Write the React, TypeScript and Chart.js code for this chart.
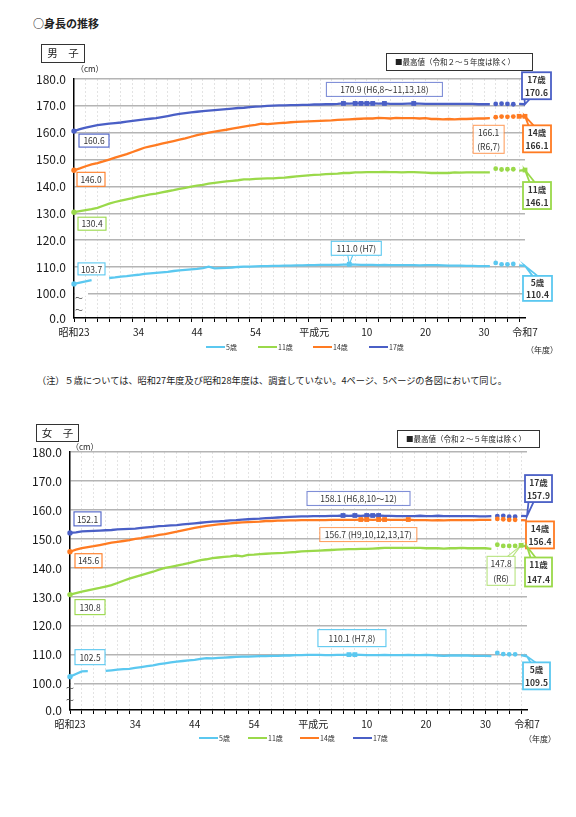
"use client"

import { useRef, useEffect } from "react"
import { Chart, registerables } from "chart.js"

Chart.register(...registerables)

const FONT = '"Noto Sans CJK JP", "Noto Sans", sans-serif'

const years = [
  1948, 1949, 1950, 1951, 1952, 1953, 1954, 1955, 1956, 1957,
  1958, 1959, 1960, 1961, 1962, 1963, 1964, 1965, 1966, 1967,
  1968, 1969, 1970, 1971, 1972, 1973, 1974, 1975, 1976, 1977,
  1978, 1979, 1980, 1981, 1982, 1983, 1984, 1985, 1986, 1987,
  1988, 1989, 1990, 1991, 1992, 1993, 1994, 1995, 1996, 1997,
  1998, 1999, 2000, 2001, 2002, 2003, 2004, 2005, 2006, 2007,
  2008, 2009, 2010, 2011, 2012, 2013, 2014, 2015, 2016, 2017,
  2018, 2019, 2020, 2021, 2022, 2023, 2024, 2025,
]

const xTickYears = [1948, 1959, 1969, 1979, 1989, 1998, 2008, 2018, 2025]
const xTickText = ["昭和23", "34", "44", "54", "平成元", "10", "20", "30", "令和7"]

// 91 stands in for the broken "0.0" at the bottom of the axis
const yTicks = [91, 100, 110, 120, 130, 140, 150, 160, 170, 180]

const ages = ["5歳", "11歳", "14歳", "17歳"]
const ageColors = ["#5BC8F0", "#9AD94A", "#FF7B22", "#4A5FC6"]

// R2-R5: drawn as loose dots, excluded from the maximum
const covidYears = [2020, 2021, 2022, 2023]

// ---- 男子 ----
const boys5 = [
  103.7, 104.2, 104.6, 105.1, null, null, 105.9, 106.1, 106.4, 106.6,
  106.9, 107.1, 107.4, 107.6, 107.8, 108.0, 108.2, 108.5, 108.7, 108.9,
  109.1, 109.3, 109.6, 110.1, 109.5, 109.6, 109.7, 109.8, 110.0, 110.1,
  110.1, 110.2, 110.3, 110.3, 110.4, 110.4, 110.5, 110.5, 110.6, 110.6,
  110.7, 110.7, 110.8, 110.8, 110.8, 110.8, 110.9, 111.0, 110.9, 110.8,
  110.8, 110.8, 110.7, 110.8, 110.7, 110.7, 110.7, 110.7, 110.7, 110.6,
  110.7, 110.7, 110.7, 110.6, 110.5, 110.5, 110.5, 110.4, 110.4, 110.3,
  110.3, 110.3, 111.5, 111.0, 111.0, 111.1, 110.6, 110.4,
]
const boys11 = [
  130.4, 130.8, 131.2, 131.5, 132.0, 132.8, 133.6, 134.2, 134.7, 135.2,
  135.6, 136.2, 136.6, 137.0, 137.3, 137.8, 138.2, 138.6, 139.1, 139.5,
  139.9, 140.3, 140.6, 141.0, 141.3, 141.6, 141.9, 142.1, 142.3, 142.6,
  142.6, 142.8, 142.9, 143.0, 143.0, 143.2, 143.3, 143.5, 143.7, 143.9,
  144.1, 144.3, 144.4, 144.6, 144.7, 144.8, 145.0, 145.0, 145.2, 145.2,
  145.3, 145.3, 145.3, 145.4, 145.3, 145.3, 145.2, 145.3, 145.3, 145.2,
  145.1, 145.0, 145.0, 145.0, 145.0, 145.2, 145.1, 145.2, 145.2, 145.2,
  145.2, 145.2, 146.6, 146.3, 146.4, 146.4, 145.9, 146.1,
]
const boys14 = [
  146.0, 146.7, 147.5, 148.2, 148.7, 149.3, 150.0, 150.7, 151.4, 152.0,
  152.8, 153.6, 154.4, 154.9, 155.4, 155.9, 156.4, 156.9, 157.4, 157.9,
  158.5, 159.1, 159.6, 160.0, 160.4, 160.8, 161.1, 161.5, 161.9, 162.3,
  162.6, 162.9, 163.4, 163.2, 163.4, 163.6, 163.7, 163.9, 164.0, 164.1,
  164.2, 164.3, 164.4, 164.5, 164.6, 164.8, 164.9, 165.0, 165.1, 165.2,
  165.3, 165.3, 165.5, 165.4, 165.3, 165.5, 165.4, 165.4, 165.4, 165.3,
  165.4, 165.1, 165.1, 165.0, 165.1, 165.0, 165.1, 165.1, 165.2, 165.3,
  165.3, 165.4, 165.8, 166.0, 165.9, 166.0, 166.1, 166.1,
]
const boys17 = [
  160.6, 161.3, 161.9, 162.4, 162.8, 163.1, 163.4, 163.6, 163.8, 164.1,
  164.4, 164.7, 165.0, 165.2, 165.4, 165.8, 166.2, 166.6, 167.0, 167.3,
  167.6, 167.8, 168.0, 168.2, 168.4, 168.6, 168.8, 169.0, 169.2, 169.3,
  169.5, 169.7, 169.8, 170.0, 170.1, 170.2, 170.2, 170.3, 170.3, 170.4,
  170.4, 170.5, 170.5, 170.6, 170.6, 170.7, 170.9, 170.8, 170.9, 170.9,
  170.9, 170.9, 170.8, 170.9, 170.7, 170.7, 170.7, 170.8, 170.9, 170.8,
  170.7, 170.7, 170.7, 170.7, 170.7, 170.7, 170.7, 170.7, 170.7, 170.6,
  170.6, 170.6, 170.7, 170.8, 170.7, 170.6, 170.7, 170.6,
]
const boys5Max = [1995]
const boys11Max = [2025]
const boys14Max = [2024, 2025]
const boys17Max = [1994, 1996, 1997, 1998, 1999, 2001, 2006]

// ---- 女子 ----
const girls5 = [
  102.5, 103.4, 104.3, 104.4, null, null, 104.5, 104.7, 104.9, 105.1,
  105.2, 105.5, 105.8, 106.1, 106.4, 106.8, 107.1, 107.4, 107.7, 107.9,
  108.1, 108.3, 108.6, 108.9, 108.8, 109.0, 109.1, 109.2, 109.3, 109.4,
  109.4, 109.5, 109.6, 109.6, 109.7, 109.7, 109.8, 109.8, 109.9, 109.9,
  110.0, 110.0, 110.0, 109.9, 109.9, 110.0, 110.0, 110.1, 110.1, 110.0,
  109.9, 109.9, 109.9, 110.0, 109.9, 109.9, 109.9, 110.0, 109.9, 109.9,
  110.0, 109.9, 109.8, 109.7, 109.8, 109.8, 109.8, 109.8, 109.7, 109.7,
  109.7, 109.6, 110.7, 110.3, 110.2, 110.2, 109.9, 109.5,
]
const girls11 = [
  130.8, 131.3, 131.8, 132.3, 132.7, 133.1, 133.6, 134.1, 134.8, 135.6,
  136.3, 136.9, 137.5, 138.1, 138.7, 139.4, 140.0, 140.4, 140.8, 141.2,
  141.7, 142.2, 142.7, 143.0, 143.4, 143.6, 143.8, 144.0, 144.3, 144.0,
  144.5, 144.6, 144.8, 144.9, 145.0, 145.1, 145.2, 145.4, 145.5, 145.7,
  145.8, 145.9, 146.0, 146.1, 146.2, 146.3, 146.4, 146.5, 146.5, 146.6,
  146.6, 146.7, 146.8, 146.9, 146.9, 146.9, 146.9, 146.9, 146.9, 146.9,
  146.8, 146.8, 146.8, 146.7, 146.8, 146.8, 146.9, 146.8, 146.8, 146.8,
  146.8, 146.6, 148.0, 147.6, 147.6, 147.6, 147.8, 147.4,
]
const girls14 = [
  145.6, 146.3, 146.8, 147.2, 147.5, 147.9, 148.3, 148.7, 149.0, 149.3,
  149.6, 150.0, 150.3, 150.7, 151.0, 151.4, 151.7, 152.1, 152.5, 153.0,
  153.4, 153.8, 154.2, 154.5, 154.8, 155.0, 155.2, 155.4, 155.6, 155.7,
  155.8, 155.9, 156.0, 156.2, 156.2, 156.3, 156.3, 156.4, 156.4, 156.5,
  156.5, 156.5, 156.5, 156.5, 156.6, 156.6, 156.6, 156.6, 156.6, 156.7,
  156.7, 156.6, 156.7, 156.7, 156.6, 156.6, 156.6, 156.7, 156.5, 156.5,
  156.5, 156.4, 156.5, 156.4, 156.5, 156.5, 156.5, 156.5, 156.5, 156.6,
  156.6, 156.6, 156.9, 156.8, 156.6, 156.6, 156.5, 156.4,
]
const girls17 = [
  152.1, 152.3, 152.6, 152.7, 152.8, 152.9, 153.0, 153.1, 153.3, 153.4,
  153.5, 153.6, 153.8, 154.0, 154.2, 154.4, 154.5, 154.7, 154.8, 155.0,
  155.2, 155.4, 155.6, 155.8, 156.0, 156.1, 156.2, 156.4, 156.5, 156.7,
  156.8, 156.9, 157.0, 157.2, 157.3, 157.4, 157.5, 157.6, 157.7, 157.8,
  157.8, 157.9, 157.9, 157.9, 158.0, 158.0, 158.1, 158.0, 158.1, 158.0,
  158.1, 158.1, 158.1, 158.0, 158.0, 157.9, 157.9, 157.9, 157.9, 158.0,
  157.9, 157.9, 158.0, 157.9, 157.9, 157.9, 157.9, 157.9, 157.9, 157.8,
  157.8, 157.9, 157.9, 158.0, 157.7, 157.7, 158.0, 157.9,
]
const girls5Max = [1995, 1996]
const girls11Max = [2024]
const girls14Max = [1997, 1998, 2000, 2001, 2005]
const girls17Max = [1994, 1996, 1998, 1999, 2000]

interface Callout {
  ds: number
  year: number
  lines: string[]
  dx: number
  dy: number
  w: number
  h: number
  tail?: [number, number]
  strong?: boolean
  light?: boolean
}

const boysCallouts: Callout[] = [
  { ds: 3, year: 1948, lines: ["160.6"], dx: 5, dy: 3, w: 30, h: 13 },
  { ds: 2, year: 1948, lines: ["146.0"], dx: 3, dy: 2, w: 28, h: 14 },
  { ds: 1, year: 1948, lines: ["130.4"], dx: 4, dy: 5, w: 28, h: 13 },
  { ds: 0, year: 1948, lines: ["103.7"], dx: 4, dy: -21, w: 27, h: 12 },
  { ds: 3, year: 1994, lines: ["170.9 (H6,8～11,13,18)"], dx: -17, dy: -21, w: 116, h: 14, light: true },
  { ds: 2, year: 2024, lines: ["166.1", "(R6,7)"], dx: -46, dy: 9, w: 31, h: 28, light: true },
  { ds: 0, year: 1995, lines: ["111.0 (H7)"], dx: -18, dy: -23, w: 50, h: 14, tail: [19, 14] },
  { ds: 3, year: 2025, lines: ["17歳", "170.6"], dx: -3, dy: -32, w: 29, h: 27, tail: [5, 27], strong: true },
  { ds: 2, year: 2025, lines: ["14歳", "166.1"], dx: -2, dy: 9, w: 28, h: 27, tail: [8, 0], strong: true },
  { ds: 1, year: 2025, lines: ["11歳", "146.1"], dx: -2, dy: 12, w: 28, h: 27, tail: [9, 0], strong: true },
  { ds: 0, year: 2025, lines: ["5歳", "110.4"], dx: -2, dy: 10, w: 29, h: 25, tail: [12, 0], strong: true },
]

const girlsCallouts: Callout[] = [
  { ds: 3, year: 1948, lines: ["152.1"], dx: 4, dy: -21, w: 27, h: 14 },
  { ds: 2, year: 1948, lines: ["145.6"], dx: 5, dy: 2, w: 27, h: 14 },
  { ds: 1, year: 1948, lines: ["130.8"], dx: 5, dy: 5, w: 30, h: 15 },
  { ds: 0, year: 1948, lines: ["102.5"], dx: 5, dy: -27, w: 30, h: 15 },
  { ds: 3, year: 1994, lines: ["158.1 (H6,8,10～12)"], dx: -36, dy: -24, w: 103, h: 14, light: true },
  { ds: 2, year: 1997, lines: ["156.7 (H9,10,12,13,17)"], dx: -41, dy: 8, w: 97, h: 14, light: true },
  { ds: 1, year: 2024, lines: ["147.8", "(R6)"], dx: -34, dy: 11, w: 28, h: 29, tail: [23, 0], light: true },
  { ds: 0, year: 1995, lines: ["110.1 (H7,8)"], dx: -31, dy: -25, w: 68, h: 17 },
  { ds: 3, year: 2025, lines: ["17歳", "157.9"], dx: -2, dy: -41, w: 27, h: 27, tail: [6, 27], strong: true },
  { ds: 2, year: 2025, lines: ["14歳", "156.4"], dx: -1, dy: 1, w: 28, h: 27, strong: true },
  { ds: 1, year: 2025, lines: ["11歳", "147.4"], dx: -2, dy: 11, w: 27, h: 29, tail: [8, 0], strong: true },
  { ds: 0, year: 2025, lines: ["5歳", "109.5"], dx: -4, dy: 6, w: 27, h: 27, tail: [10, 0], strong: true },
]

const X_AXIS_H = 30

function makeAnnotations(callouts: Callout[], gap: number, breakDx: number) {
  return {
    id: "annotations",
    beforeDatasetsDraw(chart: any) {
      const { ctx, chartArea, scales } = chart
      const y100 = scales.y.getPixelForValue(100)
      ctx.save()
      ctx.fillStyle = "#ffffff"
      ctx.fillRect(chartArea.left + 1, y100 - 2, gap, 4)
      ctx.restore()
    },
    afterDraw(chart: any) {
      const { ctx, chartArea, scales } = chart
      const y100 = scales.y.getPixelForValue(100)
      ctx.save()
      ctx.font = `8px ${FONT}`
      ctx.fillStyle = "#444"
      ctx.textAlign = "center"
      ctx.textBaseline = "middle"
      ctx.fillText("～", chartArea.left + breakDx, y100 + 4)
      ctx.fillText("～", chartArea.left + breakDx, y100 + 16)

      for (const c of callouts) {
        const el = chart.getDatasetMeta(c.ds).data[years.indexOf(c.year)]
        if (!el) continue
        const px = el.x
        const py = el.y
        const bx = px + c.dx
        const by = py + c.dy
        ctx.strokeStyle = ageColors[c.ds]
        ctx.lineWidth = c.strong ? 1.8 : 1.1
        ctx.globalAlpha = c.light ? 0.7 : 1
        if (c.tail) {
          const ax = bx + c.tail[0]
          const ay = by + c.tail[1]
          ctx.beginPath()
          ctx.moveTo(ax - 2.5, ay)
          ctx.lineTo(px, py)
          ctx.lineTo(ax + 2.5, ay)
          ctx.stroke()
        }
        ctx.fillStyle = "#ffffff"
        ctx.fillRect(bx, by, c.w, c.h)
        ctx.strokeRect(bx, by, c.w, c.h)
        ctx.globalAlpha = 1
        ctx.fillStyle = "#333"
        ctx.font = `${c.strong ? "bold " : ""}8.5px ${FONT}`
        const lh = c.h / c.lines.length
        c.lines.forEach((t, k) => {
          ctx.fillText(t, bx + c.w / 2, by + lh * (k + 0.5) + 0.5)
        })
      }
      ctx.restore()
    },
  }
}

interface ChartProps {
  series: (number | null)[][]
  maxYears: number[][]
  callouts: Callout[]
  top: number
  height: number
  plotLeft: number
  plotRight: number
  plotTop: number
  plotBottom: number
  gap: number
  breakDx: number
}

function HeightChart(p: ChartProps) {
  const canvasRef = useRef<HTMLCanvasElement>(null)
  const chartRef = useRef<Chart | null>(null)

  useEffect(() => {
    if (!canvasRef.current) return
    if (chartRef.current) chartRef.current.destroy()

    const datasets = p.series.map((data, i) => {
      const maxY = p.maxYears[i]
      return {
        label: ages[i],
        data,
        borderColor: ageColors[i],
        backgroundColor: ageColors[i],
        pointBackgroundColor: ageColors[i],
        pointBorderWidth: 0,
        borderWidth: 2.3,
        tension: 0,
        spanGaps: false,
        clip: false as any,
        pointStyle: (ctx: any) => (maxY.includes(years[ctx.dataIndex]) ? "rect" : "circle"),
        pointRadius: (ctx: any) => {
          const y = years[ctx.dataIndex]
          if (maxY.includes(y)) return 3.4
          if (ctx.dataIndex === 0) return 2.7
          if (covidYears.includes(y)) return 2.4
          return 0
        },
        segment: {
          borderColor: (ctx: any) =>
            covidYears.includes(years[ctx.p0DataIndex]) || covidYears.includes(years[ctx.p1DataIndex])
              ? "transparent"
              : undefined,
        },
      }
    })

    chartRef.current = new Chart(canvasRef.current, {
      type: "line",
      data: { labels: years, datasets },
      options: {
        responsive: false,
        animation: false,
        events: [],
        layout: {
          padding: {
            left: 0,
            right: 576 - p.plotRight,
            top: p.plotTop - p.top,
            bottom: p.top + p.height - p.plotBottom - X_AXIS_H,
          },
        },
        plugins: {
          legend: { display: false },
          tooltip: { enabled: false },
        },
        scales: {
          x: {
            afterFit: (scale: any) => {
              scale.height = X_AXIS_H
            },
            grid: {
              color: (ctx: any) => (ctx.index > 0 && ctx.index % 2 === 0 ? "#e3e3e3" : "transparent"),
              tickColor: (ctx: any) => (ctx.index % 2 === 0 ? "#000" : "transparent"),
              tickLength: 4,
              lineWidth: 1,
            },
            border: { color: "#000", width: 1.5, dash: [2, 2] },
            ticks: {
              autoSkip: false,
              maxRotation: 0,
              padding: 4,
              color: "#1a1a1a",
              font: { family: FONT, size: 10 },
              callback: (_v: any, i: number) => {
                const k = xTickYears.indexOf(years[i])
                return k >= 0 ? xTickText[k] : ""
              },
            },
          },
          y: {
            min: 91,
            max: 180,
            afterFit: (scale: any) => {
              scale.width = p.plotLeft
            },
            afterBuildTicks: (scale: any) => {
              scale.ticks = yTicks.map((v) => ({ value: v }))
            },
            grid: {
              color: (ctx: any) => (ctx.tick && ctx.tick.value === 91 ? "transparent" : "#b4b4b4"),
              lineWidth: 1.5,
              drawTicks: false,
            },
            border: { color: "#000", width: 1.5 },
            ticks: {
              padding: 8,
              color: "#1a1a1a",
              font: { family: FONT, size: 12 },
              callback: (v: any) => (v === 91 ? "0.0" : Number(v).toFixed(1)),
            },
          },
        },
      },
      plugins: [makeAnnotations(p.callouts, p.gap, p.breakDx)],
    })

    return () => {
      if (chartRef.current) chartRef.current.destroy()
    }
  }, [])

  return (
    <canvas
      ref={canvasRef}
      width={576}
      height={p.height}
      style={{ position: "absolute", left: 0, top: p.top, width: 576, height: p.height }}
    />
  )
}

function Legend({ top, starts }: { top: number; starts: number[] }) {
  return (
    <>
      {ages.map((a, i) => (
        <div
          key={a}
          style={{ position: "absolute", left: starts[i], top: top - 5, height: 10, display: "flex", alignItems: "center" }}
        >
          <span style={{ display: "inline-block", width: 19, height: 2.5, background: ageColors[i] }} />
          <span style={{ fontSize: 7, color: "#333", marginLeft: 1, lineHeight: "10px" }}>{a}</span>
        </div>
      ))}
    </>
  )
}

const abs = (left: number, top: number, extra: any = {}) => ({ position: "absolute" as const, left, top, ...extra })

export default function App() {
  useEffect(() => {
    document.body.style.margin = "0"
  }, [])

  return (
    <div style={{ position: "relative", width: 576, height: 817, background: "#fff", fontFamily: FONT, color: "#222" }}>
      <HeightChart
        series={[boys5, boys11, boys14, boys17]}
        maxYears={[boys5Max, boys11Max, boys14Max, boys17Max]}
        callouts={boysCallouts}
        top={60}
        height={300}
        plotLeft={74}
        plotRight={525}
        plotTop={79}
        plotBottom={318}
        gap={13}
        breakDx={5}
      />
      <HeightChart
        series={[girls5, girls11, girls14, girls17]}
        maxYears={[girls5Max, girls11Max, girls14Max, girls17Max]}
        callouts={girlsCallouts}
        top={430}
        height={310}
        plotLeft={70}
        plotRight={527}
        plotTop={452}
        plotBottom={710}
        gap={3}
        breakDx={0}
      />

      <div style={abs(33, 16, { fontSize: 11, fontWeight: "bold", lineHeight: "14px" })}>○身長の推移</div>

      <div
        style={abs(41, 44, {
          width: 44, height: 19, boxSizing: "border-box", border: "1.5px solid #333",
          fontSize: 10.5, lineHeight: "16px", textAlign: "center",
        })}
      >
        男　子
      </div>
      <div style={abs(76, 64, { fontSize: 8, lineHeight: "10px" })}>（cm）</div>
      <div
        style={abs(386, 53, {
          width: 147, height: 18, boxSizing: "border-box", border: "1.2px solid #333",
          fontSize: 7.5, lineHeight: "15px", paddingLeft: 8,
        })}
      >
        ■最高値（令和２～５年度は除く）
      </div>
      <Legend top={347} starts={[206, 258, 313, 369]} />
      <div style={abs(526, 345, { fontSize: 8, lineHeight: "10px" })}>（年度）</div>

      <div style={abs(37, 374, { fontSize: 9.2, lineHeight: "12px", whiteSpace: "nowrap" })}>
        （注）５歳については、昭和27年度及び昭和28年度は、調査していない。4ページ、5ページの各図において同じ。
      </div>

      <div
        style={abs(36, 424, {
          width: 43, height: 18, boxSizing: "border-box", border: "1.5px solid #333",
          fontSize: 10.5, lineHeight: "15px", textAlign: "center",
        })}
      >
        女　子
      </div>
      <div style={abs(71, 442, { fontSize: 8, lineHeight: "10px" })}>（cm）</div>
      <div
        style={abs(397, 430, {
          width: 143, height: 18, boxSizing: "border-box", border: "1.2px solid #333",
          fontSize: 7.5, lineHeight: "15px", paddingLeft: 8,
        })}
      >
        ■最高値（令和２～５年度は除く）
      </div>
      <Legend top={738} starts={[199, 248, 300, 353]} />
      <div style={abs(524, 734, { fontSize: 8, lineHeight: "10px" })}>（年度）</div>
    </div>
  )
}
